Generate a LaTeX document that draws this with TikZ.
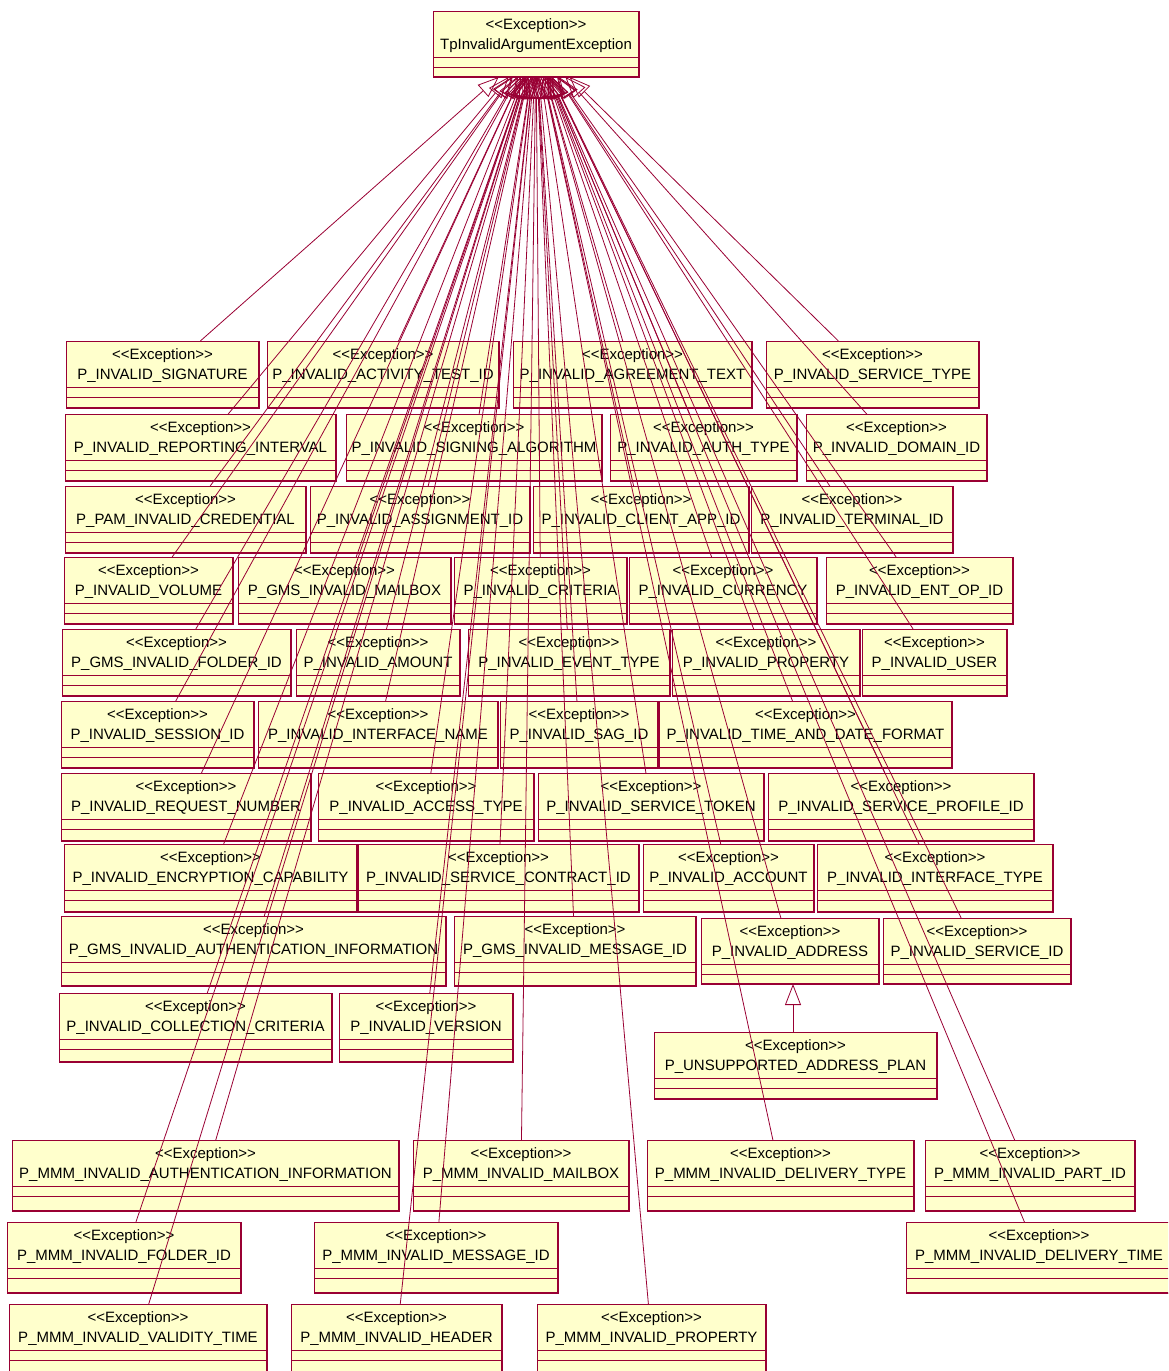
\documentclass[tikz,border=0pt]{standalone}
\usepackage{fontspec}
\setmainfont{Liberation Sans}
\usetikzlibrary{arrows.meta}
\definecolor{umlred}{RGB}{153,0,51}
\definecolor{umlfill}{RGB}{255,255,204}
\tikzset{
  cbox/.style={draw=umlred, fill=umlfill, line width=0.9pt, inner sep=0pt, outer sep=0pt},
  cline/.style={draw=umlred, line width=0.8pt},
  cshadow/.style={draw=umlred, line width=1.6pt},
  ctext/.style={anchor=base, inner sep=0pt, font=\fontsize{15}{18}\selectfont},
  gen/.style={draw=umlred, line width=0.8pt, -{Triangle[open,length=21pt,width=16pt]}},
}
\newcommand\stereo{<\kern0pt<Exception>\kern0pt>}
\newcommand\umlclass[6]{%
  \node[cbox, minimum width={#4-#2}, minimum height={#5-#3}, anchor=north west] (#1) at (#2,#3) {};
  \draw[cline] (#2,#3+46) -- (#4,#3+46) (#2,#3+56) -- (#4,#3+56);
  \draw[cshadow] (#2,#5) -- (#4,#5) -- (#4,#3);
  \node[ctext] (#1-s) at ({(#2+#4)/2},#3+18) {\stereo};
  \node[ctext] (#1-n) at ({(#2+#4)/2},#3+38) {\detokenize{#6}};
}
\begin{document}
\begin{tikzpicture}[x=1pt,y=-1pt]
\useasboundingbox (0,0) rectangle (1168,1371);
\clip (0,0) rectangle (1168,1371);
% parent
\umlclass{top}{433}{11}{639}{77}{TpInvalidArgumentException}
% row 1
\umlclass{a1}{66}{341}{259}{408}{P_INVALID_SIGNATURE}
\umlclass{a2}{267}{341}{499}{408}{P_INVALID_ACTIVITY_TEST_ID}
\umlclass{a3}{513}{341}{752}{408}{P_INVALID_AGREEMENT_TEXT}
\umlclass{a4}{766}{341}{979}{408}{P_INVALID_SERVICE_TYPE}
% row 2
\umlclass{b1}{65}{414}{336}{481}{P_INVALID_REPORTING_INTERVAL}
\umlclass{b2}{346}{414}{602}{481}{P_INVALID_SIGNING_ALGORITHM}
\umlclass{b3}{610}{414}{797}{481}{P_INVALID_AUTH_TYPE}
\umlclass{b4}{806}{414}{987}{481}{P_INVALID_DOMAIN_ID}
% row 3
\umlclass{c1}{65}{486}{306}{553}{P_PAM_INVALID_CREDENTIAL}
\umlclass{c2}{310}{486}{530}{553}{P_INVALID_ASSIGNMENT_ID}
\umlclass{c3}{533}{486}{749}{553}{P_INVALID_CLIENT_APP_ID}
\umlclass{c4}{751}{486}{953}{553}{P_INVALID_TERMINAL_ID}
% row 4
\umlclass{d1}{64}{557}{233}{624}{P_INVALID_VOLUME}
\umlclass{d2}{238}{557}{451}{624}{P_GMS_INVALID_MAILBOX}
\umlclass{d3}{454}{557}{627}{624}{P_INVALID_CRITERIA}
\umlclass{d4}{629}{557}{817}{624}{P_INVALID_CURRENCY}
\umlclass{d5}{826}{557}{1013}{624}{P_INVALID_ENT_OP_ID}
% row 5
\umlclass{e1}{62}{629}{291}{696}{P_GMS_INVALID_FOLDER_ID}
\umlclass{e2}{296}{629}{460}{696}{P_INVALID_AMOUNT}
\umlclass{e3}{468}{629}{670}{696}{P_INVALID_EVENT_TYPE}
\umlclass{e4}{672}{629}{860}{696}{P_INVALID_PROPERTY}
\umlclass{e5}{862}{629}{1007}{696}{P_INVALID_USER}
% row 6
\umlclass{f1}{61}{701}{254}{768}{P_INVALID_SESSION_ID}
\umlclass{f2}{258}{701}{498}{768}{P_INVALID_INTERFACE_NAME}
\umlclass{f3}{500}{701}{658}{768}{P_INVALID_SAG_ID}
\umlclass{f4}{659}{701}{952}{768}{P_INVALID_TIME_AND_DATE_FORMAT}
% row 7
\umlclass{g1}{61}{773}{311}{841}{P_INVALID_REQUEST_NUMBER}
\umlclass{g2}{318}{773}{534}{841}{P_INVALID_ACCESS_TYPE}
\umlclass{g3}{538}{773}{764}{841}{P_INVALID_SERVICE_TOKEN}
\umlclass{g4}{768}{773}{1034}{841}{P_INVALID_SERVICE_PROFILE_ID}
% row 8
\umlclass{h1}{64}{844}{357}{912}{P_INVALID_ENCRYPTION_CAPABILITY}
\umlclass{h2}{358}{844}{639}{912}{P_INVALID_SERVICE_CONTRACT_ID}
\umlclass{h3}{643}{844}{814}{912}{P_INVALID_ACCOUNT}
\umlclass{h4}{817}{844}{1053}{912}{P_INVALID_INTERFACE_TYPE}
% row 9
\umlclass{i1}{61}{916}{446}{986}{P_GMS_INVALID_AUTHENTICATION_INFORMATION}
\umlclass{i2}{454}{916}{696}{986}{P_GMS_INVALID_MESSAGE_ID}
\umlclass{i3}{701}{918}{879}{984}{P_INVALID_ADDRESS}
\umlclass{i4}{883}{918}{1071}{984}{P_INVALID_SERVICE_ID}
% row 10
\umlclass{j1}{59}{993}{332}{1062}{P_INVALID_COLLECTION_CRITERIA}
\umlclass{j2}{339}{993}{513}{1062}{P_INVALID_VERSION}
\umlclass{uap}{654}{1032}{937}{1099}{P_UNSUPPORTED_ADDRESS_PLAN}
% MMM rows
\umlclass{k1}{12}{1140}{399}{1211}{P_MMM_INVALID_AUTHENTICATION_INFORMATION}
\umlclass{k2}{413}{1140}{629}{1211}{P_MMM_INVALID_MAILBOX}
\umlclass{k3}{647}{1140}{914}{1211}{P_MMM_INVALID_DELIVERY_TYPE}
\umlclass{k4}{925}{1140}{1135}{1211}{P_MMM_INVALID_PART_ID}
\umlclass{l1}{7}{1222}{241}{1293}{P_MMM_INVALID_FOLDER_ID}
\umlclass{l2}{314}{1222}{558}{1293}{P_MMM_INVALID_MESSAGE_ID}
\umlclass{l3}{906}{1222}{1172}{1293}{P_MMM_INVALID_DELIVERY_TIME}
\umlclass{m1}{9}{1304}{267}{1375}{P_MMM_INVALID_VALIDITY_TIME}
\umlclass{m2}{291}{1304}{502}{1375}{P_MMM_INVALID_HEADER}
\umlclass{m3}{537}{1304}{766}{1375}{P_MMM_INVALID_PROPERTY}
% generalizations
\foreach \c in {a1,a2,a3,a4,b1,b2,b3,b4,c1,c2,c3,c4,d1,d2,d3,d4,d5,e1,e2,e3,e4,e5,f1,f2,f3,f4,g1,g2,g3,g4,h1,h2,h3,h4,i1,i2,i3,i4,j1,j2,k1,k2,k3,k4,l1,l2,l3,m1,m2,m3}
  \draw[gen] (\c) -- (top);
\coordinate (ax) at (793,0);
\draw[gen] (uap.north -| ax) -- (i3.south -| ax);
\end{tikzpicture}
\end{document}
